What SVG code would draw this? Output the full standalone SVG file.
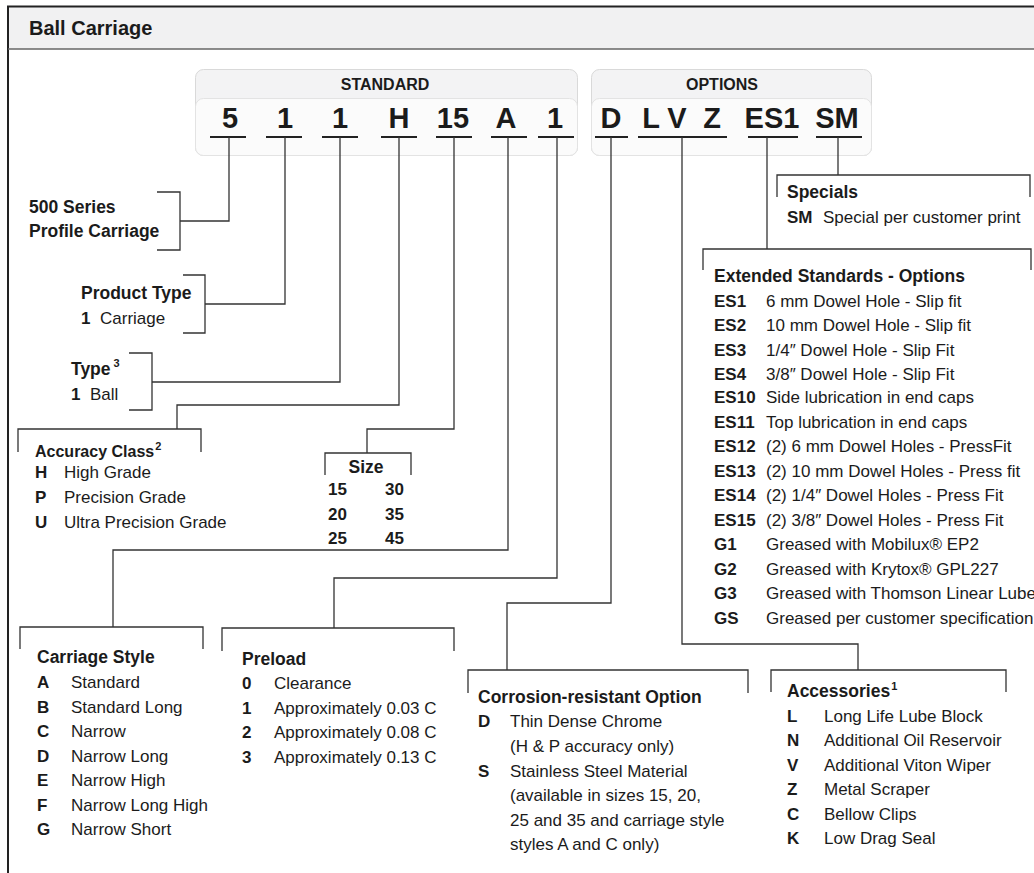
<svg xmlns="http://www.w3.org/2000/svg" width="1034" height="873" viewBox="0 0 1034 873">
<style>
text{font-family:"Liberation Sans",Arial,sans-serif;fill:#1b1b1b}
.h{font-size:17.5px;font-weight:bold}
.t{font-size:17px}
.b{font-size:17px;font-weight:bold}
.sup{font-size:11px}
.code{font-size:29px;font-weight:bold;text-anchor:middle}
.lbl{font-size:16px;font-weight:bold;text-anchor:middle}
.ln{fill:none;stroke:#333;stroke-width:1.3}
.ul{stroke:#222;stroke-width:2}
.box{fill:#f3f3f4;stroke:#d9d9d9;stroke-width:1}
.inner{fill:#fbfbfb;stroke:#e3e3e3;stroke-width:1}
</style>
<rect width="1034" height="873" fill="#fff"/>
<g id="frame">
<rect x="8" y="7" width="1030" height="42" fill="#f1f1f2"/>
<line x1="7" y1="6.5" x2="1034" y2="6.5" stroke="#222" stroke-width="2"/>
<line x1="8" y1="6" x2="8" y2="873" stroke="#222" stroke-width="2"/>
<line x1="8" y1="49" x2="1034" y2="49" stroke="#666" stroke-width="1.5"/>
<text x="29" y="35" style="font-size:20px;font-weight:bold">Ball Carriage</text>
</g>
<g id="code-standard">
<rect class="box" x="195.5" y="69.5" width="382" height="86" rx="8"/>
<rect class="inner" x="195.5" y="98.5" width="382" height="57" rx="8"/>
<text class="lbl" x="385" y="90">STANDARD</text>
<text class="code" x="230" y="128">5</text>
<text class="code" x="285" y="128">1</text>
<text class="code" x="340" y="128">1</text>
<text class="code" x="399" y="128">H</text>
<text class="code" x="453" y="128">15</text>
<text class="code" x="506" y="128">A</text>
<text class="code" x="555" y="128">1</text>
<line class="ul" x1="210" y1="137" x2="246" y2="137"/>
<line class="ul" x1="266" y1="137" x2="302" y2="137"/>
<line class="ul" x1="322" y1="137" x2="358" y2="137"/>
<line class="ul" x1="381" y1="137" x2="417" y2="137"/>
<line class="ul" x1="436" y1="137" x2="472" y2="137"/>
<line class="ul" x1="491" y1="137" x2="527" y2="137"/>
<line class="ul" x1="538" y1="137" x2="574" y2="137"/>
</g>
<g id="code-options">
<rect class="box" x="591.5" y="69.5" width="280" height="86" rx="8"/>
<rect class="inner" x="591.5" y="98.5" width="280" height="57" rx="8"/>
<text class="lbl" x="722" y="90">OPTIONS</text>
<text class="code" x="611" y="128">D</text>
<text class="code" x="651" y="128">L</text>
<text class="code" x="677" y="128">V</text>
<text class="code" x="712" y="128">Z</text>
<text class="code" x="772" y="128">ES1</text>
<text class="code" x="837" y="128">SM</text>
<line class="ul" x1="595" y1="137" x2="628" y2="137"/>
<line class="ul" x1="638" y1="137" x2="727" y2="137"/>
<line class="ul" x1="748" y1="137" x2="798" y2="137"/>
<line class="ul" x1="816" y1="137" x2="862" y2="137"/>
</g>
<g id="connectors" class="ln">
<path d="M229,137V221H180"/>
<path d="M285,137V304H205"/>
<path d="M340,137V382H152"/>
<path d="M399,137V405H177V429"/>
<path d="M454,137V429H367V453"/>
<path d="M508,137V550H113V627"/>
<path d="M557,137V578H334V628"/>
<path d="M611,137V603H507V670"/>
<path d="M682,137V644H858V670"/>
<path d="M767,137V249"/>
<path d="M838,137V175"/>
</g>
<g id="series">
<path class="ln" d="M157,192H180V250H157"/>
<text class="h" x="29" y="213">500 Series</text>
<text class="h" x="29" y="237">Profile Carriage</text>
</g>
<g id="product-type">
<path class="ln" d="M183,275H205V333H183"/>
<text class="h" x="81" y="299">Product Type</text>
<text class="b" x="81" y="324">1</text><text class="t" x="100" y="324">Carriage</text>
</g>
<g id="type">
<path class="ln" d="M129,353H152V410H129"/>
<text class="h" x="71" y="375">Type<tspan class="sup" dx="3" dy="-8">3</tspan></text>
<text class="b" x="71" y="400">1</text><text class="t" x="90" y="400">Ball</text>
</g>
<g id="accuracy">
<path class="ln" d="M18,452V429H201V452"/>
<text class="h" x="35" y="457" style="font-size:16px">Accuracy Class<tspan class="sup" dx="1" dy="-7">2</tspan></text>
<text class="b" x="35" y="478">H</text><text class="t" x="64" y="478">High Grade</text>
<text class="b" x="35" y="503">P</text><text class="t" x="64" y="503">Precision Grade</text>
<text class="b" x="35" y="528">U</text><text class="t" x="64" y="528">Ultra Precision Grade</text>
</g>
<g id="size">
<path class="ln" d="M325,475V453H411V475"/>
<text class="h" x="366" y="473" text-anchor="middle">Size</text>
<text class="b" x="328" y="495">15</text><text class="b" x="385" y="495">30</text>
<text class="b" x="328" y="520">20</text><text class="b" x="385" y="520">35</text>
<text class="b" x="328" y="544">25</text><text class="b" x="385" y="544">45</text>
</g>
<g id="carriage-style">
<path class="ln" d="M20,649V627H203V649"/>
<text class="h" x="37" y="663">Carriage Style</text>
<text class="b" x="37" y="688">A</text><text class="t" x="71" y="688">Standard</text>
<text class="b" x="37" y="713">B</text><text class="t" x="71" y="713">Standard Long</text>
<text class="b" x="37" y="737">C</text><text class="t" x="71" y="737">Narrow</text>
<text class="b" x="37" y="762">D</text><text class="t" x="71" y="762">Narrow Long</text>
<text class="b" x="37" y="786">E</text><text class="t" x="71" y="786">Narrow High</text>
<text class="b" x="37" y="811">F</text><text class="t" x="71" y="811">Narrow Long High</text>
<text class="b" x="37" y="835">G</text><text class="t" x="71" y="835">Narrow Short</text>
</g>
<g id="preload">
<path class="ln" d="M222,651V628H454V651"/>
<text class="h" x="242" y="665">Preload</text>
<text class="b" x="242" y="689">0</text><text class="t" x="274" y="689">Clearance</text>
<text class="b" x="242" y="714">1</text><text class="t" x="274" y="714">Approximately 0.03 C</text>
<text class="b" x="242" y="738">2</text><text class="t" x="274" y="738">Approximately 0.08 C</text>
<text class="b" x="242" y="763">3</text><text class="t" x="274" y="763">Approximately 0.13 C</text>
</g>
<g id="corrosion">
<path class="ln" d="M468,693V670H748V693"/>
<text class="h" x="478" y="703">Corrosion-resistant Option</text>
<text class="b" x="478" y="727">D</text><text class="t" x="510" y="727">Thin Dense Chrome</text>
<text class="t" x="510" y="752">(H &amp; P accuracy only)</text>
<text class="b" x="478" y="777">S</text><text class="t" x="510" y="777">Stainless Steel Material</text>
<text class="t" x="510" y="801">(available in sizes 15, 20,</text>
<text class="t" x="510" y="826">25 and 35 and carriage style</text>
<text class="t" x="510" y="850">styles A and C only)</text>
</g>
<g id="accessories">
<path class="ln" d="M771,692V670H1006V692"/>
<text class="h" x="787" y="697">Accessories<tspan class="sup" dx="1" dy="-7">1</tspan></text>
<text class="b" x="787" y="722">L</text><text class="t" x="824" y="722">Long Life Lube Block</text>
<text class="b" x="787" y="746">N</text><text class="t" x="824" y="746">Additional Oil Reservoir</text>
<text class="b" x="787" y="771">V</text><text class="t" x="824" y="771">Additional Viton Wiper</text>
<text class="b" x="787" y="795">Z</text><text class="t" x="824" y="795">Metal Scraper</text>
<text class="b" x="787" y="820">C</text><text class="t" x="824" y="820">Bellow Clips</text>
<text class="b" x="787" y="844">K</text><text class="t" x="824" y="844">Low Drag Seal</text>
</g>
<g id="specials">
<path class="ln" d="M777,197V175H1030V197"/>
<text class="h" x="787" y="198">Specials</text>
<text class="b" x="787" y="223">SM</text><text class="t" x="823" y="223">Special per customer print</text>
</g>
<g id="extended">
<path class="ln" d="M703,270V249H1031V270"/>
<text class="h" x="714" y="282">Extended Standards - Options</text>
<text class="b" x="714" y="307">ES1</text><text class="t" x="766" y="307">6 mm Dowel Hole - Slip ﬁt</text>
<text class="b" x="714" y="331">ES2</text><text class="t" x="766" y="331">10 mm Dowel Hole - Slip ﬁt</text>
<text class="b" x="714" y="356">ES3</text><text class="t" x="766" y="356">1/4″ Dowel Hole - Slip Fit</text>
<text class="b" x="714" y="380">ES4</text><text class="t" x="766" y="380">3/8″ Dowel Hole - Slip Fit</text>
<text class="b" x="714" y="403">ES10</text><text class="t" x="766" y="403">Side lubrication in end caps</text>
<text class="b" x="714" y="428">ES11</text><text class="t" x="766" y="428">Top lubrication in end caps</text>
<text class="b" x="714" y="452">ES12</text><text class="t" x="766" y="452">(2) 6 mm Dowel Holes - PressFit</text>
<text class="b" x="714" y="477">ES13</text><text class="t" x="766" y="477">(2) 10 mm Dowel Holes - Press ﬁt</text>
<text class="b" x="714" y="501">ES14</text><text class="t" x="766" y="501">(2) 1/4″ Dowel Holes - Press Fit</text>
<text class="b" x="714" y="526">ES15</text><text class="t" x="766" y="526">(2) 3/8″ Dowel Holes - Press Fit</text>
<text class="b" x="714" y="550">G1</text><text class="t" x="766" y="550">Greased with Mobilux® EP2</text>
<text class="b" x="714" y="575">G2</text><text class="t" x="766" y="575">Greased with Krytox® GPL227</text>
<text class="b" x="714" y="599">G3</text><text class="t" x="766" y="599">Greased with Thomson Linear Lube</text>
<text class="b" x="714" y="624">GS</text><text class="t" x="766" y="624">Greased per customer specification</text>
</g>
</svg>
